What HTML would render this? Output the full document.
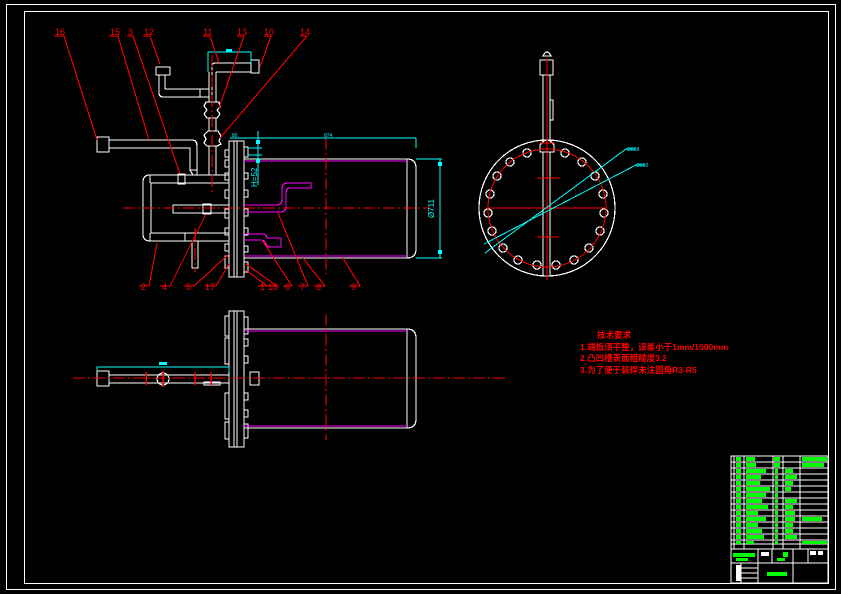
<!DOCTYPE html>
<html><head><meta charset="utf-8"><style>
html,body{margin:0;padding:0;background:#000;}
svg{display:block;}
text{font-family:"Liberation Sans","Noto Sans CJK SC",sans-serif;}
</style></head><body>
<svg width="841" height="594" viewBox="0 0 841 594" xmlns="http://www.w3.org/2000/svg" shape-rendering="crispEdges">
<rect width="841" height="594" fill="#000"/>
<rect x="6.5" y="4.5" width="829" height="585" fill="none" stroke="#fff" stroke-width="1"/>
<rect x="24.5" y="11.5" width="804" height="572" fill="none" stroke="#fff" stroke-width="1"/>

<g fill="none" stroke="#fff" stroke-width="1.2">
<rect x="229" y="141" width="15" height="136"/>
<line x1="234" y1="141" x2="234" y2="277"/>
<line x1="237" y1="141" x2="237" y2="277"/>
<rect x="225" y="150" width="4" height="7"/><rect x="225" y="160" width="4" height="7"/>
<rect x="225" y="173" width="4" height="7"/><rect x="225" y="190" width="4" height="8"/>
<rect x="225" y="209" width="4" height="9"/><rect x="225" y="228" width="4" height="7"/>
<rect x="225" y="244" width="4" height="7"/><rect x="225" y="256" width="4" height="12"/>
<rect x="244" y="147" width="4" height="10"/><rect x="244" y="173" width="4" height="6"/>
<rect x="244" y="190" width="4" height="7"/><rect x="244" y="209" width="4" height="7"/>
<rect x="244" y="228" width="4" height="7"/><rect x="244" y="246" width="4" height="6"/>
<rect x="244" y="262" width="4" height="10"/>
<path d="M244 159 H407 Q416 159 416 168 V249 Q416 258 407 258 H244"/>
<line x1="407" y1="159" x2="407" y2="258"/>
<path d="M229 175 H150 Q143 175 143 182 V234 Q143 241 150 241 H229"/>
<path d="M229 183 H151 V233 H229"/>
<line x1="150" y1="175" x2="150" y2="183"/><line x1="150" y1="233" x2="150" y2="241"/>
<line x1="185" y1="233" x2="185" y2="241"/>
<rect x="178" y="174" width="7" height="10"/>
<rect x="173" y="205" width="56" height="8"/>
<rect x="203" y="204" width="8" height="10"/>
<rect x="192" y="241" width="6" height="27"/>
<rect x="97" y="137" width="12" height="15"/>
<path d="M109 140 H192 Q197 140 197 146 V175"/>
<path d="M109 148 H190 V170 L193 175"/>
<line x1="190" y1="170" x2="197" y2="170"/>
<line x1="209" y1="72" x2="209" y2="102"/><line x1="216" y1="72" x2="216" y2="102"/>
<line x1="209" y1="118" x2="209" y2="131"/><line x1="216" y1="118" x2="216" y2="131"/>
<line x1="209" y1="146" x2="209" y2="175"/><line x1="216" y1="146" x2="216" y2="175"/>
<line x1="212" y1="72" x2="212" y2="96"/>
<path d="M206 102 L219 102 L220 107 L217 110 L220 114 L217 118 L207 118 L204 114 L207 110 L204 106 Z"/>
<path d="M208 131 L218 131 L221 136 L219 141 L221 144 L217 146 L207 146 L204 143 L206 139 L204 135 Z"/>
<rect x="156" y="67" width="14" height="8"/>
<path d="M159 75 V93 Q159 97 163 97 H209"/>
<path d="M165 75 V89 H209"/>
<line x1="200" y1="89" x2="200" y2="97"/>
<path d="M212 72 V66 Q212 63 216 63 H251"/>
<line x1="216" y1="72" x2="251" y2="72"/>
<rect x="251" y="60" width="8" height="13"/>

<rect x="229" y="311" width="15" height="136"/>
<line x1="234" y1="311" x2="234" y2="447"/><line x1="237" y1="311" x2="237" y2="447"/>
<rect x="225" y="316" width="4" height="20"/><rect x="225" y="338" width="4" height="26"/>
<rect x="225" y="393" width="4" height="26"/><rect x="225" y="422" width="4" height="17"/>
<rect x="244" y="317" width="4" height="17"/><rect x="244" y="339" width="4" height="7"/>
<rect x="244" y="356" width="4" height="7"/><rect x="244" y="393" width="4" height="7"/>
<rect x="244" y="410" width="4" height="7"/><rect x="244" y="424" width="4" height="14"/>
<path d="M244 329 H407 Q416 329 416 338 V419 Q416 428 407 428 H244"/>
<line x1="407" y1="329" x2="407" y2="428"/>
<rect x="97" y="371" width="12" height="15"/>
<rect x="109" y="375" width="120" height="8"/>
<circle cx="163" cy="379" r="6"/>
<rect x="250" y="372" width="9" height="13"/>
<rect x="204" y="382" width="16" height="3"/>

<circle cx="547" cy="208" r="68"/>
<path d="M543 56 Q547 48 551 56 Z"/>
<rect x="540" y="60" width="13" height="15"/>
<line x1="543" y1="75" x2="543" y2="140"/><line x1="550" y1="75" x2="550" y2="140"/>
<rect x="550" y="100" width="3" height="20"/>
<path d="M540 145 Q547 135 554 145 L554 152 L540 152 Z"/>
<line x1="543" y1="152" x2="543" y2="275"/><line x1="550" y1="152" x2="550" y2="275"/>
</g>

<g fill="none" stroke="#fff" stroke-width="1.2">
<circle cx="527" cy="153" r="4"/><circle cx="565" cy="153" r="4"/>
<circle cx="510" cy="162" r="4"/><circle cx="582" cy="162" r="4"/>
<circle cx="497" cy="176" r="4"/><circle cx="595" cy="176" r="4"/>
<circle cx="490" cy="194" r="4"/><circle cx="603" cy="194" r="4"/>
<circle cx="488" cy="213" r="4"/><circle cx="604" cy="213" r="4"/>
<circle cx="492" cy="231" r="4"/><circle cx="600" cy="231" r="4"/>
<circle cx="503" cy="248" r="4"/><circle cx="589" cy="248" r="4"/>
<circle cx="518" cy="260" r="4"/><circle cx="574" cy="260" r="4"/>
<circle cx="537" cy="265" r="4"/><circle cx="556" cy="265" r="4"/>
</g>
<circle cx="547" cy="208" r="59" fill="none" stroke="#f00" stroke-width="1"/>
<g stroke="#f00" stroke-width="1.2">
<line x1="488" y1="208" x2="605" y2="208"/>
<line x1="547" y1="58" x2="547" y2="280"/>
<line x1="537" y1="178" x2="560" y2="178"/>
<line x1="537" y1="237" x2="559" y2="237"/>
<line x1="540" y1="143" x2="555" y2="143"/>
</g>
<g stroke="#0ff" stroke-width="1">
<line x1="485" y1="253" x2="626" y2="149"/>
<line x1="484" y1="244" x2="636" y2="165"/>
<line x1="626" y1="149" x2="636" y2="149"/><line x1="636" y1="165" x2="645" y2="165"/>
</g>
<text x="627" y="151" font-size="5" fill="#0ff">Ø868</text>
<text x="636" y="167" font-size="5" fill="#0ff">Ø802</text>

<g fill="none" stroke="#f0f" stroke-width="1.2">
<line x1="244" y1="161" x2="407" y2="161"/>
<line x1="244" y1="256" x2="407" y2="256"/>
<path d="M244 205 H276 Q282 205 282 199 V189 Q282 183 288 183 H311 V188 H290 Q286 188 286 193 V206 Q286 212 280 212 H244"/>
<path d="M244 234 H263 Q266 234 267 238 H281 V247 H270 Q267 247 265 242 Q264 240 260 240 H244"/>
<line x1="244" y1="331" x2="407" y2="331"/>
<line x1="244" y1="426" x2="407" y2="426"/>
</g>

<g stroke="#f00" stroke-width="1.2" stroke-dasharray="12,3,2,3" fill="none">
<line x1="123" y1="208" x2="430" y2="208"/>
<line x1="326" y1="138" x2="326" y2="274"/>
<line x1="212" y1="55" x2="212" y2="192"/>
<line x1="195" y1="228" x2="195" y2="272"/>
<line x1="73" y1="378" x2="505" y2="378"/>
<line x1="326" y1="314" x2="326" y2="440"/>
</g>
<g stroke="#f00" stroke-width="1.5">
<line x1="146" y1="372" x2="146" y2="385"/><line x1="195" y1="372" x2="195" y2="385"/>
<line x1="211" y1="372" x2="211" y2="385"/><line x1="163" y1="371" x2="163" y2="387"/>
</g>

<g stroke="#0ff" stroke-width="1" fill="none">
<line x1="230" y1="138" x2="416" y2="138"/>
<line x1="416" y1="138" x2="416" y2="148"/>
<line x1="258" y1="131" x2="258" y2="185"/>
<line x1="248" y1="148" x2="262" y2="148"/><line x1="248" y1="155" x2="262" y2="155"/>
<line x1="416" y1="159" x2="442" y2="159"/><line x1="416" y1="258" x2="442" y2="258"/>
<line x1="440" y1="159" x2="440" y2="258"/>
<path d="M208 72 V52 H251 V63"/>
<path d="M97 371 V367 H229 V372"/>
</g>
<rect x="438" y="162" width="4" height="4" fill="#0ff"/><rect x="438" y="250" width="4" height="4" fill="#0ff"/>
<rect x="256" y="140" width="4" height="4" fill="#0ff"/><rect x="256" y="159" width="4" height="4" fill="#0ff"/>
<rect x="226" y="49" width="6" height="3" fill="#0ff"/><rect x="159" y="362" width="8" height="3" fill="#0ff"/>
<text x="324" y="137" font-size="5" fill="#0ff">874</text>
<text x="232" y="137" font-size="5" fill="#0ff">80</text>
<text transform="translate(434 218) rotate(-90)" font-size="8" fill="#0ff">Ø711</text>
<text transform="translate(257 187) rotate(-90)" font-size="8" fill="#0ff">H=52</text>

<g stroke="#f00" stroke-width="1.1" fill="none">
<path d="M54 36 H64 L97 140"/>
<path d="M109 36 H118 L149 140"/>
<path d="M127 36 H133 L180 174"/>
<path d="M143 36 H150 L160 64"/>
<path d="M203 36 H210 L219 63"/>
<path d="M237 36 H244 L219 108"/>
<path d="M264 36 H271 L260 67"/>
<path d="M300 36 H307 L220 138"/>
<path d="M139 286 H149 L157 243"/>
<path d="M160 286 H170 L206 214"/>
<path d="M184 286 H194 L229 254"/>
<path d="M205 286 H216 L229 264"/>
<path d="M258 286 H267 L246 270"/>
<path d="M268 286 H277 L246 264"/>
<path d="M283 286 H292 L262 240"/>
<path d="M298 286 H308 L278 213"/>
<path d="M314 286 H325 L303 258"/>
<path d="M349 286 H360 L343 258"/>
</g>
<g fill="#f00" font-size="9">
<text x="55" y="35">16</text><text x="110" y="35">15</text><text x="128" y="35">3</text>
<text x="144" y="35">12</text><text x="203" y="35">11</text><text x="237" y="35">13</text>
<text x="264" y="35">10</text><text x="300" y="35">14</text>
<text x="141" y="290">2</text><text x="162" y="290">4</text><text x="186" y="290">5</text>
<text x="205" y="290">17</text><text x="260" y="290">1</text><text x="268" y="290">18</text>
<text x="285" y="290">6</text><text x="300" y="290">7</text><text x="316" y="290">8</text>
<text x="351" y="290">9</text>
</g>

<g fill="#f00" font-size="8.5" font-weight="bold">
<text x="597" y="338">技术要求</text>
<text x="580" y="350">1.端板须平整，误差小于1mm/1000mm</text>
<text x="580" y="361">2.凸凹槽表面粗糙度3.2</text>
<text x="580" y="373">3.为了便于装焊未注圆角R3-R5</text>
</g>

<g stroke="#fff" stroke-width="1" fill="none">
<rect x="731" y="456" width="97" height="127"/>
<line x1="734" y1="456" x2="734" y2="549"/>
<line x1="744" y1="456" x2="744" y2="549"/>
<line x1="773" y1="456" x2="773" y2="549"/>
<line x1="783" y1="456" x2="783" y2="549"/>
<line x1="800" y1="456" x2="800" y2="549"/>
<line x1="731" y1="462" x2="828" y2="462"/><line x1="731" y1="468" x2="828" y2="468"/>
<line x1="731" y1="474" x2="828" y2="474"/><line x1="731" y1="480" x2="828" y2="480"/>
<line x1="731" y1="486" x2="828" y2="486"/><line x1="731" y1="492" x2="828" y2="492"/>
<line x1="731" y1="498" x2="828" y2="498"/><line x1="731" y1="504" x2="828" y2="504"/>
<line x1="731" y1="510" x2="828" y2="510"/><line x1="731" y1="516" x2="828" y2="516"/>
<line x1="731" y1="522" x2="828" y2="522"/><line x1="731" y1="528" x2="828" y2="528"/>
<line x1="731" y1="534" x2="828" y2="534"/><line x1="731" y1="540" x2="828" y2="540"/>
<line x1="731" y1="544" x2="828" y2="544"/>
<line x1="731" y1="549" x2="828" y2="549"/>
<line x1="731" y1="563" x2="828" y2="563"/>
<line x1="758" y1="549" x2="758" y2="583"/>
<line x1="772" y1="549" x2="772" y2="563"/>
<line x1="793" y1="549" x2="793" y2="583"/>
<line x1="808" y1="549" x2="808" y2="563"/>
<line x1="741" y1="563" x2="741" y2="583"/>
<line x1="741" y1="568" x2="758" y2="568"/><line x1="741" y1="573" x2="758" y2="573"/><line x1="741" y1="578" x2="758" y2="578"/>
</g>
<g fill="#0f0">
<rect x="736" y="457" width="5" height="4"/><rect x="746" y="457" width="9" height="4"/><rect x="774" y="457" width="6" height="4"/><rect x="802" y="457" width="25" height="4"/>
<rect x="736" y="463" width="5" height="4"/><rect x="746" y="463" width="10" height="4"/><rect x="774" y="463" width="6" height="4"/><rect x="802" y="463" width="22" height="4"/>
<rect x="736" y="469" width="5" height="4"/><rect x="746" y="469" width="20" height="4"/><rect x="775" y="469" width="3" height="4"/><rect x="785" y="469" width="8" height="4"/>
<rect x="736" y="475" width="5" height="4"/><rect x="746" y="475" width="15" height="4"/><rect x="775" y="475" width="3" height="4"/><rect x="785" y="475" width="12" height="4"/>
<rect x="736" y="481" width="5" height="4"/><rect x="746" y="481" width="14" height="4"/><rect x="775" y="481" width="3" height="4"/><rect x="785" y="481" width="8" height="4"/>
<rect x="736" y="487" width="5" height="4"/><rect x="746" y="487" width="24" height="4"/><rect x="775" y="487" width="3" height="4"/><rect x="785" y="487" width="6" height="4"/>
<rect x="736" y="493" width="5" height="4"/><rect x="746" y="493" width="20" height="4"/><rect x="775" y="493" width="3" height="4"/>
<rect x="736" y="499" width="5" height="4"/><rect x="746" y="499" width="16" height="4"/><rect x="775" y="499" width="3" height="4"/><rect x="785" y="499" width="12" height="4"/>
<rect x="736" y="505" width="5" height="4"/><rect x="746" y="505" width="22" height="4"/><rect x="775" y="505" width="3" height="4"/><rect x="785" y="505" width="8" height="4"/>
<rect x="736" y="511" width="5" height="4"/><rect x="746" y="511" width="12" height="4"/><rect x="775" y="511" width="3" height="4"/><rect x="785" y="511" width="10" height="4"/>
<rect x="736" y="517" width="5" height="4"/><rect x="746" y="517" width="20" height="4"/><rect x="775" y="517" width="3" height="4"/><rect x="785" y="517" width="10" height="4"/><rect x="802" y="517" width="20" height="4"/>
<rect x="736" y="523" width="5" height="4"/><rect x="746" y="523" width="12" height="4"/><rect x="775" y="523" width="3" height="4"/><rect x="785" y="523" width="8" height="4"/>
<rect x="736" y="529" width="5" height="4"/><rect x="746" y="529" width="16" height="4"/><rect x="775" y="529" width="3" height="4"/><rect x="785" y="529" width="8" height="4"/>
<rect x="736" y="535" width="5" height="4"/><rect x="746" y="535" width="18" height="4"/><rect x="775" y="535" width="3" height="4"/><rect x="785" y="535" width="12" height="4"/>
<rect x="736" y="541" width="5" height="3"/><rect x="746" y="541" width="8" height="3"/><rect x="775" y="541" width="3" height="3"/><rect x="802" y="541" width="25" height="3"/>
<rect x="733" y="553" width="22" height="4"/><rect x="736" y="558" width="12" height="3"/>
<rect x="783" y="552" width="5" height="5"/><rect x="777" y="558" width="8" height="3"/>
<rect x="767" y="572" width="20" height="4"/>
</g>
<g fill="#fff">
<rect x="761" y="552" width="8" height="4"/><rect x="736" y="565" width="5" height="16"/>
<rect x="810" y="551" width="6" height="4"/><rect x="818" y="551" width="5" height="4"/>
</g>
</svg>
</body></html>
